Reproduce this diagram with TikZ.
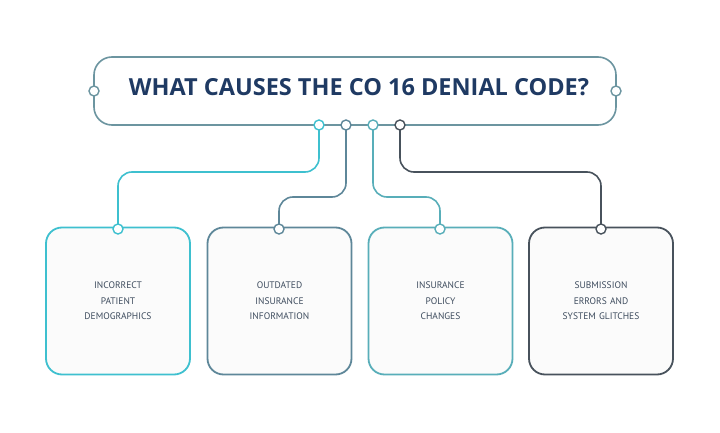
\documentclass[tikz,border=0pt]{standalone}
\usepackage{fontspec}
\setmainfont{Open Sans}
\newfontfamily\boxfont{PT Sans}
\definecolor{cA}{HTML}{3EC0CF}
\definecolor{cB}{HTML}{5E8799}
\definecolor{cC}{HTML}{58AEB9}
\definecolor{cD}{HTML}{48525C}
\definecolor{cT}{HTML}{6C95A0}
\definecolor{navy}{HTML}{1F3A63}
\definecolor{txt}{HTML}{3E4C5E}
\begin{document}
\begin{tikzpicture}[x=1pt,y=-1pt,
  link/.style={line width=1.6pt,rounded corners=14pt},
  dot/.style={circle,draw,fill=white,line width=1.4pt,inner sep=0pt,minimum size=10pt},
  card/.style={draw,line width=1.8pt,rounded corners=16pt,fill=white!97!gray,minimum width=144pt,minimum height=147pt,
    font=\boxfont\fontsize{9.5}{15.5}\selectfont,text=txt,align=center,text width=120pt}]
\useasboundingbox[fill=white] (0,0) rectangle (720,433);
\node[draw=cT,line width=1.6pt,rounded corners=18pt,minimum width=522pt,minimum height=68pt,fill=white] (title) at (355,91) {};
\node[font=\bfseries\fontsize{23.5}{26}\selectfont,text=navy,inner sep=0pt] (tt) at (359,87) {WHAT CAUSES THE CO 16 DENIAL CODE?};
\node[card,draw=cA] (b1) at (118,301) {INCORRECT\\PATIENT\\DEMOGRAPHICS};
\node[card,draw=cB] (b2) at (279.5,301) {OUTDATED\\INSURANCE\\INFORMATION};
\node[card,draw=cC] (b3) at (440.5,301) {INSURANCE\\POLICY\\CHANGES};
\node[card,draw=cD] (b4) at (601,301) {SUBMISSION\\ERRORS AND\\SYSTEM GLITCHES};
\draw[link,cA] (319,125) -- (319,172) -- (118,172) -- (118,229);
\draw[link,cB] (346,125) -- (346,197) -- (279,197) -- (279,229);
\draw[link,cC] (373,125) -- (373,197) -- (440,197) -- (440,229);
\draw[link,cD] (400,125) -- (400,172) -- (601,172) -- (601,229);
\node[dot,draw=cT] (l) at (94,91) {};
\node[dot,draw=cT] (r) at (616,91) {};
\node[dot,draw=cA] (t1) at (319,125) {};
\node[dot,draw=cB] (t2) at (346,125) {};
\node[dot,draw=cC] (t3) at (373,125) {};
\node[dot,draw=cD] (t4) at (400,125) {};
\node[dot,draw=cA] (d1) at (118,229) {};
\node[dot,draw=cB] (d2) at (279,229) {};
\node[dot,draw=cC] (d3) at (440,229) {};
\node[dot,draw=cD] (d4) at (601,229) {};
\end{tikzpicture}
\end{document}
